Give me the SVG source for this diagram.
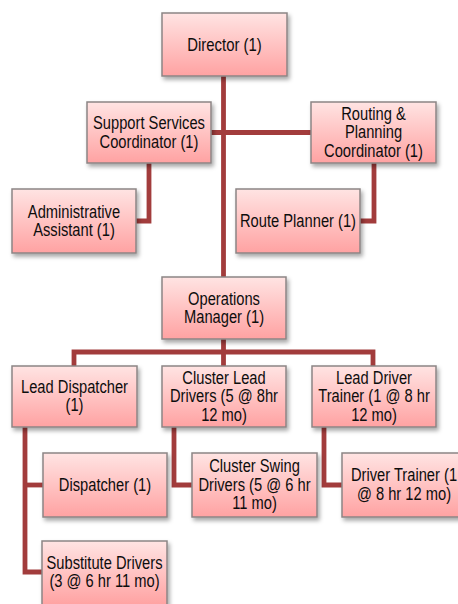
<svg xmlns="http://www.w3.org/2000/svg" width="458" height="604" viewBox="0 0 458 604">
<defs>
<linearGradient id="fill" x1="0" y1="0" x2="0" y2="1">
<stop offset="0" stop-color="#FFE4E3"/>
<stop offset="1" stop-color="#FFA2A2"/>
</linearGradient>
<filter id="shadow" x="-10%" y="-10%" width="125%" height="130%">
<feDropShadow dx="2" dy="3" stdDeviation="2" flood-color="#000" flood-opacity="0.35"/>
</filter>
</defs>
<style>
.box{fill:url(#fill);stroke:#8C8585;stroke-width:1.5;filter:url(#shadow)}
.lbl{font-family:"Liberation Sans",Arial,sans-serif;font-size:17.5px;fill:#0d0d0d;text-anchor:middle}
.conn{fill:none;stroke:#A23C3C;stroke-width:4.8;stroke-linejoin:miter;stroke-linecap:butt}
</style>
<rect width="458" height="604" fill="#fff"/>
<g id="connectors" class="conn">
<path d="M223.5 76 V277"/>
<path d="M211 132.5 H311"/>
<path d="M149 163 V221 H136"/>
<path d="M374 163 V221 H360"/>
<path d="M223.5 339 V366"/>
<path d="M74 366 V352 H373 V366"/>
<path d="M25 427 V572 H42"/>
<path d="M25 485 H43"/>
<path d="M174 427 V485 H192"/>
<path d="M324 427 V485 H342"/>
</g>
<g id="director"><rect class="box" x="162" y="13" width="125" height="63"/>
<text class="lbl" transform="translate(224.5,0) scale(0.85,1)"><tspan x="0" y="51.5">Director (1)</tspan></text></g>
<g id="support"><rect class="box" x="87" y="102" width="124" height="61"/>
<text class="lbl" transform="translate(149,0) scale(0.84,1)"><tspan x="0" y="129.5">Support Services</tspan><tspan x="0" y="148">Coordinator (1)</tspan></text></g>
<g id="routing"><rect class="box" x="311" y="102" width="125" height="61"/>
<text class="lbl" transform="translate(373.5,0) scale(0.84,1)"><tspan x="0" y="120">Routing &amp;</tspan><tspan x="0" y="138.5">Planning</tspan><tspan x="0" y="157.5">Coordinator (1)</tspan></text></g>
<g id="admin"><rect class="box" x="12" y="189" width="124" height="64"/>
<text class="lbl" transform="translate(74,0) scale(0.84,1)"><tspan x="0" y="218">Administrative</tspan><tspan x="0" y="236.5">Assistant (1)</tspan></text></g>
<g id="routeplanner"><rect class="box" x="236" y="189" width="124" height="64"/>
<text class="lbl" transform="translate(298,0) scale(0.84,1)"><tspan x="0" y="227">Route Planner (1)</tspan></text></g>
<g id="operations"><rect class="box" x="162" y="277" width="124" height="62"/>
<text class="lbl" transform="translate(224,0) scale(0.84,1)"><tspan x="0" y="305">Operations</tspan><tspan x="0" y="323.5">Manager (1)</tspan></text></g>
<g id="leaddispatcher"><rect class="box" x="12" y="366" width="125" height="61"/>
<text class="lbl" transform="translate(74.5,0) scale(0.84,1)"><tspan x="0" y="393">Lead Dispatcher</tspan><tspan x="0" y="411.5">(1)</tspan></text></g>
<g id="clusterlead"><rect class="box" x="162" y="366" width="124" height="61"/>
<text class="lbl" transform="translate(224,0) scale(0.84,1)"><tspan x="0" y="384">Cluster Lead</tspan><tspan x="0" y="402.5">Drivers (5 @ 8hr</tspan><tspan x="0" y="421">12 mo)</tspan></text></g>
<g id="leadtrainer"><rect class="box" x="312" y="366" width="124" height="61"/>
<text class="lbl" transform="translate(374,0) scale(0.84,1)"><tspan x="0" y="384">Lead Driver</tspan><tspan x="0" y="402.5">Trainer (1 @ 8 hr</tspan><tspan x="0" y="421">12 mo)</tspan></text></g>
<g id="dispatcher"><rect class="box" x="43" y="453" width="124" height="64"/>
<text class="lbl" transform="translate(105,0) scale(0.84,1)"><tspan x="0" y="491.5">Dispatcher (1)</tspan></text></g>
<g id="clusterswing"><rect class="box" x="192" y="453" width="125" height="64"/>
<text class="lbl" transform="translate(254.5,0) scale(0.84,1)"><tspan x="0" y="472.5">Cluster Swing</tspan><tspan x="0" y="491">Drivers (5 @ 6 hr</tspan><tspan x="0" y="509.5">11 mo)</tspan></text></g>
<g id="drivertrainer"><rect class="box" x="342" y="453" width="124" height="64"/>
<text class="lbl" transform="translate(404,0) scale(0.84,1)"><tspan x="0" y="481.5">Driver Trainer (1</tspan><tspan x="0" y="500">@ 8 hr 12 mo)</tspan></text></g>
<g id="substitute"><rect class="box" x="42" y="541" width="125" height="64"/>
<text class="lbl" transform="translate(104.5,0) scale(0.84,1)"><tspan x="0" y="569">Substitute Drivers</tspan><tspan x="0" y="587.5">(3 @ 6 hr 11 mo)</tspan></text></g>
</svg>
